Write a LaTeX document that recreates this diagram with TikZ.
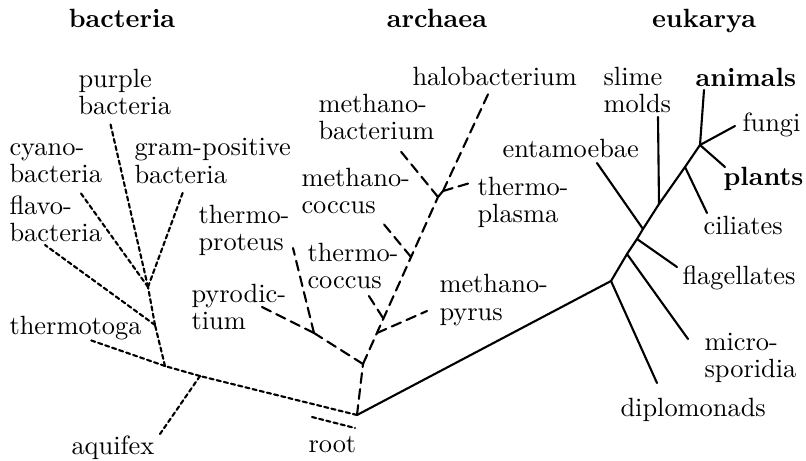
\documentclass[tikz,border=0pt]{standalone}
\usepackage{tikz}
\usepackage{tkz-euclide}
\usepackage{amsmath}

\begin{document}
\begin{tikzpicture}[x=0.379pt, y=-0.379pt,
    bact/.style={line width=0.8pt, dash pattern=on 1.6pt off 1.2pt},
    arch/.style={line width=0.8pt, dash pattern=on 3.8pt off 2.3pt},
    euk/.style={line width=0.8pt},
    lbl/.style={anchor=west, align=left, inner sep=0pt,
                font=\fontsize{10}{10.3}\selectfont},
    head/.style={anchor=base, inner sep=0pt, font=\bfseries}]
    \useasboundingbox (0,0) rectangle (806,460);
    % domains
    \node[head] (hbact) at (122,27) {bacteria};
    \node[head] (harch) at (437,27) {archaea};
    \node[head] (heuk)  at (704,27) {eukarya};
    % joints
    \tkzDefPoint(357,415){R}
    \tkzDefPoint(312,417){r1}
    \tkzDefPoint(355,428){r2}
    \tkzDefPoint(200,376){Aq}
    \tkzDefPoint(165,366){B1}
    \tkzDefPoint(155,325){B2}
    \tkzDefPoint(148,287){B3}
    \tkzDefPoint(363,364){A1}
    \tkzDefPoint(314,333){P}
    \tkzDefPoint(377,333){M1}
    \tkzDefPoint(383,318){M2}
    \tkzDefPoint(411,257){M3}
    \tkzDefPoint(438,197){T1}
    \tkzDefPoint(443,191){T2}
    \tkzDefPoint(611,281){E1}
    \tkzDefPoint(627,254){E2}
    \tkzDefPoint(637,239){E3}
    \tkzDefPoint(643,229){E4}
    \tkzDefPoint(659,204){E5}
    \tkzDefPoint(685,167){E6}
    \tkzDefPoint(700,145){E7}
    % leaf ends
    \tkzDefPoint(160,434){aquifex}
    \tkzDefPoint(90,340){thermotoga}
    \tkzDefPoint(45,245){flavo}
    \tkzDefPoint(80,192){cyano}
    \tkzDefPoint(110,122){purple}
    \tkzDefPoint(183,192){gram}
    \tkzDefPoint(262,307){pyro}
    \tkzDefPoint(293,248){tproteus}
    \tkzDefPoint(427,311){mpyrus}
    \tkzDefPoint(367,293){tcoccus}
    \tkzDefPoint(382,222){mcoccus}
    \tkzDefPoint(398,148){mbact}
    \tkzDefPoint(490,90){halo}
    \tkzDefPoint(470,183){tplasma}
    \tkzDefPoint(657,383){diplo}
    \tkzDefPoint(688,339){micro}
    \tkzDefPoint(677,267){flag}
    \tkzDefPoint(597,163){entam}
    \tkzDefPoint(658,117){slime}
    \tkzDefPoint(707,213){cil}
    \tkzDefPoint(704,90){anim}
    \tkzDefPoint(735,126){fung}
    \tkzDefPoint(725,167){plan}
    % branches
    \tkzDrawSegments[bact](R,Aq Aq,B1 B1,thermotoga Aq,aquifex r1,r2
        B1,B2 B2,flavo B2,B3 B3,cyano B3,purple B3,gram)
    \tkzDrawSegments[arch](R,A1 A1,P P,pyro P,tproteus A1,T1 T1,T2
        M1,mpyrus M2,tcoccus M3,mcoccus T1,mbact T2,halo T2,tplasma)
    \tkzDrawSegments[euk](R,E1 E1,E2 E2,E3 E3,E4 E4,E5 E5,E6 E6,E7
        E1,diplo E2,micro E3,flag E4,entam E5,slime E6,cil
        E7,anim E7,fung E7,plan)
    % labels
    \node[lbl] (lpurple) at (78,92) {purple\\bacteria};
    \node[lbl] (lcyano) at (9,163) {cyano-\\bacteria};
    \node[lbl] (lgram) at (134,161) {gram-positive\\bacteria};
    \node[lbl] (lflavo) at (9,219) {flavo-\\bacteria};
    \node[lbl] (lthermotoga) at (9,328) {thermotoga};
    \node[lbl] (laquifex) at (71,448) {aquifex};
    \node[lbl] (lroot) at (308,445) {root};
    \node[lbl] (ltproteus) at (198,230) {thermo-\\proteus};
    \node[lbl] (lpyro) at (191,307) {pyrodic-\\tium};
    \node[lbl] (lhalo) at (412,76) {halobacterium};
    \node[lbl] (lmbact) at (318,117) {methano-\\bacterium};
    \node[lbl] (lmcoccus) at (301,191) {methano-\\coccus};
    \node[lbl] (ltcoccus) at (307,266) {thermo-\\coccus};
    \node[lbl] (ltplasma) at (477,202) {thermo-\\plasma};
    \node[lbl] (lmpyrus) at (439,300) {methano-\\pyrus};
    \node[lbl] (lslime) at (603,90) {slime\\molds};
    \node[lbl, font=\bfseries] (lanim) at (695,77) {animals};
    \node[lbl] (lfung) at (742,125) {fungi};
    \node[lbl] (lentam) at (502,148) {entamoebae};
    \node[lbl, font=\bfseries] (lplan) at (723,179) {plants};
    \node[lbl] (lcil) at (703,225) {ciliates};
    \node[lbl] (lflag) at (682,278) {flagellates};
    \node[lbl] (lmicro) at (704,358) {micro-\\sporidia};
    \node[lbl] (ldiplo) at (620,410) {diplomonads};
\end{tikzpicture}
\end{document}
